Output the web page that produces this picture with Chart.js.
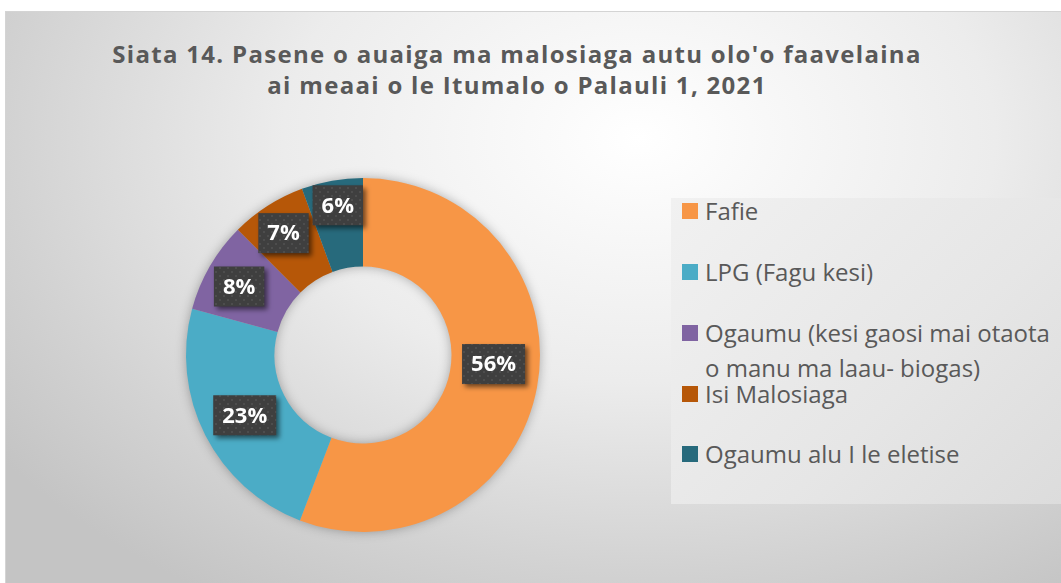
<!DOCTYPE html>
<html>
<head>
<meta charset="utf-8">
<script src="https://cdn.jsdelivr.net/npm/chart.js@4.4.0/dist/chart.umd.min.js"></script>
<style>
  body { margin: 0; width: 1061px; height: 583px; overflow: hidden; background: #fff; font-family: "Open Sans", sans-serif; }
  #chartBox {
    position: absolute; left: 5px; top: 11px; width: 1056px; height: 572px;
    border-top: 1px solid #d4d4d4; border-left: 1px solid #d4d4d4; box-sizing: border-box;
    background: radial-gradient(ellipse 75% 95% at 60% 22%, #ffffff 0%, #ececec 45%, #d2d2d2 80%, #c4c4c4 100%);
  }
  #title {
    position: absolute; left: 0; top: 26px; width: 1022px; text-align: center;
    font-weight: bold; font-size: 24px; letter-spacing: 1.3px; line-height: 31px; color: #595959;
  }
  #legendBox {
    position: absolute; left: 665px; top: 186px; width: 391px; height: 306px;
    background: linear-gradient(135deg, #f1f1f1 0%, #e6e6e6 60%, #dcdcdc 100%);
  }
  .item { position: absolute; left: 0; width: 391px; font-size: 24px; line-height: 35px; color: #595959; }
  .item span.sw { position: absolute; left: 11px; top: 10px; width: 16px; height: 16px; }
  .item span.tx { position: absolute; left: 34px; width: 355px; }
  #pie { position: absolute; left: 160px; top: 146px; }
</style>
</head>
<body>
<div id="chartBox">
  <div id="title">Siata 14. Pasene o auaiga ma malosiaga autu olo'o faavelaina<br>ai meaai o le Itumalo o Palauli 1, 2021</div>
  <div id="legendBox"></div>
  <canvas id="pie" width="394" height="394"></canvas>
</div>
<script>
//Chart data
const fuelLabels = [
  "Fafie",
  "LPG (Fagu kesi)",
  "Ogaumu (kesi gaosi mai otaota o manu ma laau- biogas)",
  "Isi Malosiaga",
  "Ogaumu alu I le eletise"
];
const fuelShares = [55.8, 23.4, 8.3, 6.9, 5.6];
const sliceColors = ["#f79646", "#4bacc6", "#8064a2", "#b65708", "#276a7c"];

//Label nudges so the boxes do not collide (like the original)
const labelShift = [[0, -15], [0, 0], [-9, -2], [-8, -10], [-2, -19]];

//Dotted texture for the label boxes
function makePattern(ctx) {
  const p = document.createElement("canvas");
  p.width = 8;
  p.height = 8;
  const pc = p.getContext("2d");
  pc.fillStyle = "#3f3f3f";
  pc.fillRect(0, 0, 8, 8);
  pc.fillStyle = "#4d4d4d";
  pc.fillRect(1, 1, 2, 2);
  pc.fillRect(5, 5, 2, 2);
  return ctx.createPattern(p, "repeat");
}

//Soft shadow under the ring
const ringShadow = {
  id: "ringShadow",
  beforeDatasetsDraw(chart) {
    const arc = chart.getDatasetMeta(0).data[0];
    if (!arc) return;
    const { x, y, outerRadius, innerRadius } = arc.getProps(["x", "y", "outerRadius", "innerRadius"], true);
    const ctx = chart.ctx;
    ctx.save();
    ctx.shadowColor = "rgba(0,0,0,0.35)";
    ctx.shadowBlur = 12;
    ctx.beginPath();
    ctx.arc(x, y, outerRadius - 1, 0, Math.PI * 2);
    ctx.arc(x, y, innerRadius + 1, 0, Math.PI * 2, true);
    ctx.fillStyle = "#b0b0b0";
    ctx.fill();
    ctx.restore();
  }
};

//Percentage boxes
const boxLabels = {
  id: "boxLabels",
  afterDatasetsDraw(chart) {
    const ctx = chart.ctx;
    const pattern = makePattern(ctx);
    const meta = chart.getDatasetMeta(0);
    ctx.save();
    ctx.font = "bold 22px 'Open Sans'";
    ctx.textAlign = "center";
    ctx.textBaseline = "middle";
    meta.data.forEach((arc, i) => {
      const pos = arc.tooltipPosition();
      const x = pos.x + labelShift[i][0];
      const y = pos.y + labelShift[i][1];
      const text = Math.round(fuelShares[i]) + "%";
      const w = ctx.measureText(text).width + 18;
      const h = 40;
      ctx.save();
      ctx.shadowColor = "rgba(0,0,0,0.55)";
      ctx.shadowBlur = 5;
      ctx.shadowOffsetX = 3;
      ctx.shadowOffsetY = 3;
      ctx.fillStyle = pattern;
      ctx.fillRect(x - w / 2, y - h / 2, w, h);
      ctx.restore();
      ctx.fillStyle = "#ffffff";
      ctx.fillText(text, x, y + 1);
    });
    ctx.restore();
  }
};

//Create the doughnut chart
const pieChart = new Chart(document.getElementById("pie"), {
  type: "doughnut",
  data: {
    labels: fuelLabels,
    datasets: [
      {
        data: fuelShares,
        backgroundColor: sliceColors,
        borderWidth: 0
      }
    ]
  },
  options: {
    responsive: false,
    animation: false,
    cutout: "50%",
    layout: { padding: 20 },
    plugins: {
      legend: { display: false },
      tooltip: { enabled: false }
    }
  },
  plugins: [ringShadow, boxLabels]
});

//Build the legend from the chart data
const legendBox = document.getElementById("legendBox");
const legendTops = [-5, 56, 117, 178, 238];
pieChart.data.labels.forEach((label, i) => {
  const item = document.createElement("div");
  item.className = "item";
  item.style.top = legendTops[i] + "px";
  item.innerHTML =
    '<span class="sw" style="background:' + pieChart.data.datasets[0].backgroundColor[i] + '"></span>' +
    '<span class="tx">' + label + "</span>";
  legendBox.appendChild(item);
});
</script>
</body>
</html>
